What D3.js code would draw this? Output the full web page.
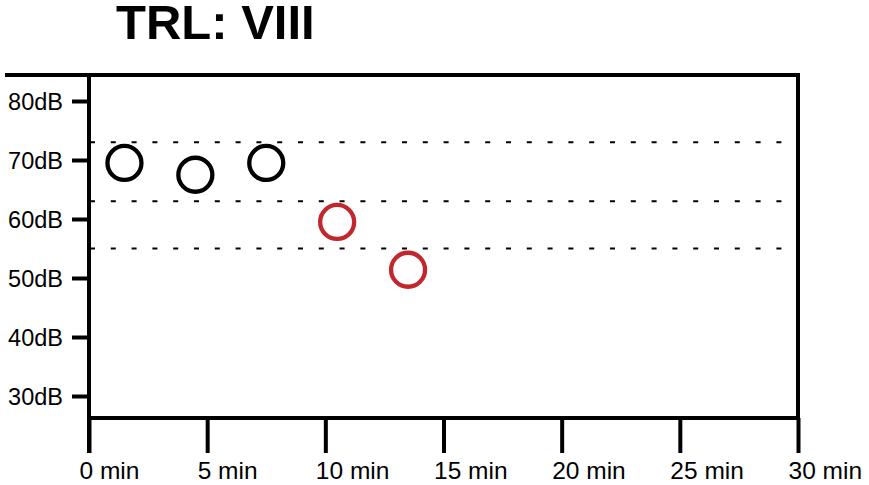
<!DOCTYPE html>
<html>
<head>
<meta charset="utf-8">
<script src="https://cdn.jsdelivr.net/npm/d3@7"></script>
<style>
  html, body { margin: 0; padding: 0; background: #fff; }
  svg { display: block; font-family: "Liberation Sans", Arial, Helvetica, sans-serif; }
</style>
</head>
<body>
<svg id="chart" width="869" height="485"></svg>
<script>
const title = "TRL: VIII";
const times = [1.5, 4.5, 7.5, 10.5, 13.5];
const levels = [69.5, 67.5, 69.5, 59.5, 51.4];
const groups = ["pass", "pass", "pass", "fail", "fail"];
const thresholds = [73, 63, 55];
const xTicks = [0, 5, 10, 15, 20, 25, 30];
const yTicks = [30, 40, 50, 60, 70, 80];

(function () {
const svg = d3.select("#chart");
const x = d3.scaleLinear().domain([0, 30]).range([89, 798]);
const y = d3.scaleLinear().domain([30, 80]).range([396, 101]);
const color = d3.scaleOrdinal().domain(["pass", "fail"]).range(["#000000", "#c1272d"]);

const frameTop = 75, frameBottom = 418;

// title
svg.append("text").attr("x", 116).attr("y", 39)
  .attr("font-size", 49).attr("font-weight", "bold").attr("fill", "#000")
  .text(title);

// threshold dotted lines
svg.append("g").selectAll("line").data(thresholds).join("line")
  .attr("x1", x(0) + 1).attr("x2", 785)
  .attr("y1", d => y(d)).attr("y2", d => y(d))
  .attr("stroke", "#000").attr("stroke-width", 2)
  .attr("stroke-dasharray", "5,15.8");

// frame
const frame = svg.append("g").attr("stroke", "#000").attr("stroke-width", 4).attr("fill", "none");
frame.append("line").attr("x1", 5).attr("x2", x(30) + 2).attr("y1", frameTop).attr("y2", frameTop);
frame.append("line").attr("x1", x(30)).attr("x2", x(30)).attr("y1", frameTop).attr("y2", frameBottom);
frame.append("line").attr("x1", x(0)).attr("x2", x(30)).attr("y1", frameBottom).attr("y2", frameBottom);
frame.append("line").attr("x1", x(0)).attr("x2", x(0)).attr("y1", frameTop).attr("y2", 453);

// x axis
const xAxis = svg.append("g").attr("transform", `translate(0,${frameBottom})`)
  .call(d3.axisBottom(x).tickValues(xTicks).tickSize(35).tickSizeOuter(0)
    .tickFormat(d => d + " min"));
xAxis.select(".domain").remove();
xAxis.selectAll(".tick line").attr("stroke", "#000").attr("stroke-width", 4);
xAxis.selectAll(".tick text").attr("text-anchor", "start").attr("x", -10)
  .attr("y", 61).attr("dy", 0).attr("font-size", 24.5).attr("fill", "#000")
  .attr("font-family", "'Liberation Sans', Arial, Helvetica, sans-serif");

// y axis
const yAxis = svg.append("g").attr("transform", `translate(${x(0)},0)`)
  .call(d3.axisLeft(y).tickValues(yTicks).tickSize(17).tickSizeOuter(0)
    .tickFormat(d => d + "dB"));
yAxis.select(".domain").remove();
yAxis.selectAll(".tick line").attr("stroke", "#000").attr("stroke-width", 4);
yAxis.selectAll(".tick text").attr("x", -26).attr("dy", "0.35em")
  .attr("font-size", 23.5).attr("fill", "#000")
  .attr("font-family", "'Liberation Sans', Arial, Helvetica, sans-serif");

// points
svg.append("g").selectAll("circle").data(times.map((t, i) => ({t, v: levels[i], g: groups[i]})))
  .join("circle")
  .attr("cx", d => x(d.t)).attr("cy", d => y(d.v)).attr("r", 17)
  .attr("fill", "none").attr("stroke", d => color(d.g)).attr("stroke-width", 4.3);
})();
</script>
</body>
</html>
